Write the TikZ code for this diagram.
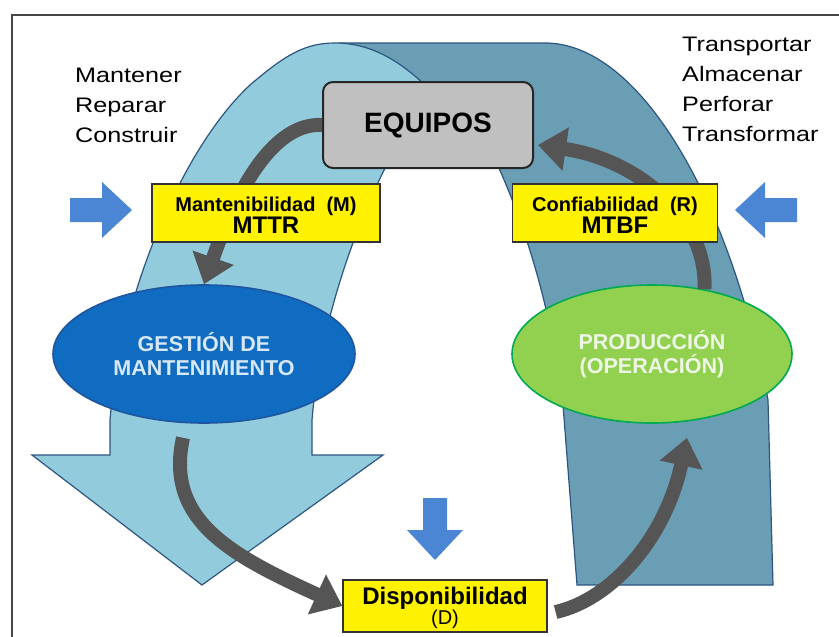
\documentclass[tikz,border=0pt]{standalone}
\usepackage{fontspec}
\setmainfont{Liberation Sans}
\newfontfamily\widefont[FakeStretch=1.2]{Liberation Sans}
\usetikzlibrary{positioning}
\usetikzlibrary{arrows.meta,shapes}
\usetikzlibrary{calc}
\definecolor{lightarch}{RGB}{146,203,220}
\definecolor{darkarch}{RGB}{106,158,180}
\definecolor{archline}{RGB}{45,85,130}
\definecolor{gestblue}{RGB}{16,108,192}
\definecolor{gestline}{RGB}{30,85,160}
\definecolor{gesttext}{RGB}{215,232,248}
\definecolor{prodgreen}{RGB}{146,208,80}
\definecolor{prodline}{RGB}{0,170,80}
\definecolor{prodtext}{RGB}{238,246,230}
\definecolor{arrowgray}{RGB}{85,85,85}
\definecolor{arrowblue}{RGB}{74,134,212}
\definecolor{boxgray}{RGB}{192,192,192}
\definecolor{framegray}{RGB}{70,70,70}
\tikzstyle{arch}=[draw=archline, line width=1.2pt]
\tikzstyle{yellowbox}=[rectangle, fill=yellow, draw=black!80, line width=1.2pt, inner sep=0pt, align=center, font=\bfseries]
\tikzstyle{blob}=[ellipse, minimum height=138pt, inner sep=0pt, align=center, line width=1.6pt, font=\bfseries\fontsize{21.5}{24}\selectfont]
\tikzstyle{flow}=[draw=arrowgray, line width=14pt, -{Triangle[length=28pt,width=42pt]}]
\tikzstyle{sidetext}=[align=left, anchor=north west, inner sep=0pt, font=\widefont\fontsize{21}{30}\selectfont]
\tikzstyle{bluearrow}=[fill=arrowblue]

\begin{document}
\begin{tikzpicture}[x=1pt, y=-1pt]
    \useasboundingbox (0,0) rectangle (839,637);
    % frame
    \draw[framegray, line width=2pt] (12,637) -- (12,15) -- (839,15);

    % First the two arches, the dark one behind
    \path[arch, fill=darkarch] (340,43) -- (545,43)
        .. controls (640,43) and (730,200) .. (768,400)
        -- (773,585) -- (577,585) -- (563,405)
        .. controls (550,300) and (520,200) .. (470,110)
        -- (400,100) -- cycle;
    \path[arch, fill=lightarch] (202,585) -- (32,455) -- (110,455) -- (110,420)
        .. controls (120,300) and (180,150) .. (250,85)
        .. controls (285,55) and (305,43) .. (335,43)
        .. controls (370,43) and (400,60) .. (430,90)
        -- (400,140)
        .. controls (360,210) and (320,320) .. (312,420)
        -- (312,455) -- (383,455) -- cycle;

    % side texts
    \node[sidetext] (acciones) at (75,68) {Mantener\\Reparar\\Construir};
    \node[sidetext] (procesos) at (682,37) {Transportar\\Almacenar\\Perforar\\Transformar};

    % blue block arrows
    \foreach \x/\y/\ang in {101/210/0, 766/210/180, 435/529/-90}
        \fill[bluearrow, shift={(\x,\y)}, rotate=\ang] (-31,-12) -- (1,-12) -- (1,-28) -- (31,0) -- (1,28) -- (1,12) -- (-31,12) -- cycle;

    % main nodes
    \node[blob, fill=gestblue, draw=gestline, minimum width=302pt, text=gesttext] (gestion) at (204,354) {GESTIÓN DE\\MANTENIMIENTO};
    \node[blob, fill=prodgreen, draw=prodline, minimum width=280pt, text=prodtext] (prod) at (652,354) {PRODUCCIÓN\\(OPERACIÓN)};
    \node[rectangle, rounded corners=10pt, fill=boxgray, draw=black!85, line width=2pt, minimum width=210pt, minimum height=86pt, font=\bfseries\fontsize{28}{28}\selectfont] (equipos) at (428,125) {EQUIPOS};
    \node[yellowbox, minimum width=204pt, minimum height=52pt] (dispo) at (445,606)
        {\rule{0pt}{21.5pt}{\fontsize{24}{26}\selectfont Disponibilidad}\\{\mdseries\fontsize{20}{26}\selectfont (D)}};

    % Connect the nodes with the gray arrows
    \draw[flow] (equipos.west) .. controls (265,122) and (228,215) .. (gestion.north);
    \draw[flow] ($(gestion.south)+(-21,14)$) .. controls (165,520) and (230,555) .. (dispo.west);
    \draw[flow] ($(dispo.east)+(8,6)$) .. controls (610,600) and (665,540) .. ($(prod.south)+(35,14)$);
    \draw[flow] (prod.51) .. controls (708,220) and (640,160) .. ($(equipos.east)+(4,20)$);

    % yellow labels on top of the arrows
    \node[yellowbox, minimum width=228pt, minimum height=58pt] (mant) at (266,213)
        {\rule{0pt}{19pt}{\fontsize{20}{28}\selectfont Mantenibilidad~~(M)}\\{\fontsize{24}{28}\selectfont MTTR}};
    \node[yellowbox, minimum width=205pt, minimum height=58pt] (conf) at (615,213)
        {\rule{0pt}{19pt}{\fontsize{20}{28}\selectfont Confiabilidad~~(R)}\\{\fontsize{24}{28}\selectfont MTBF}};
\end{tikzpicture}
\end{document}
